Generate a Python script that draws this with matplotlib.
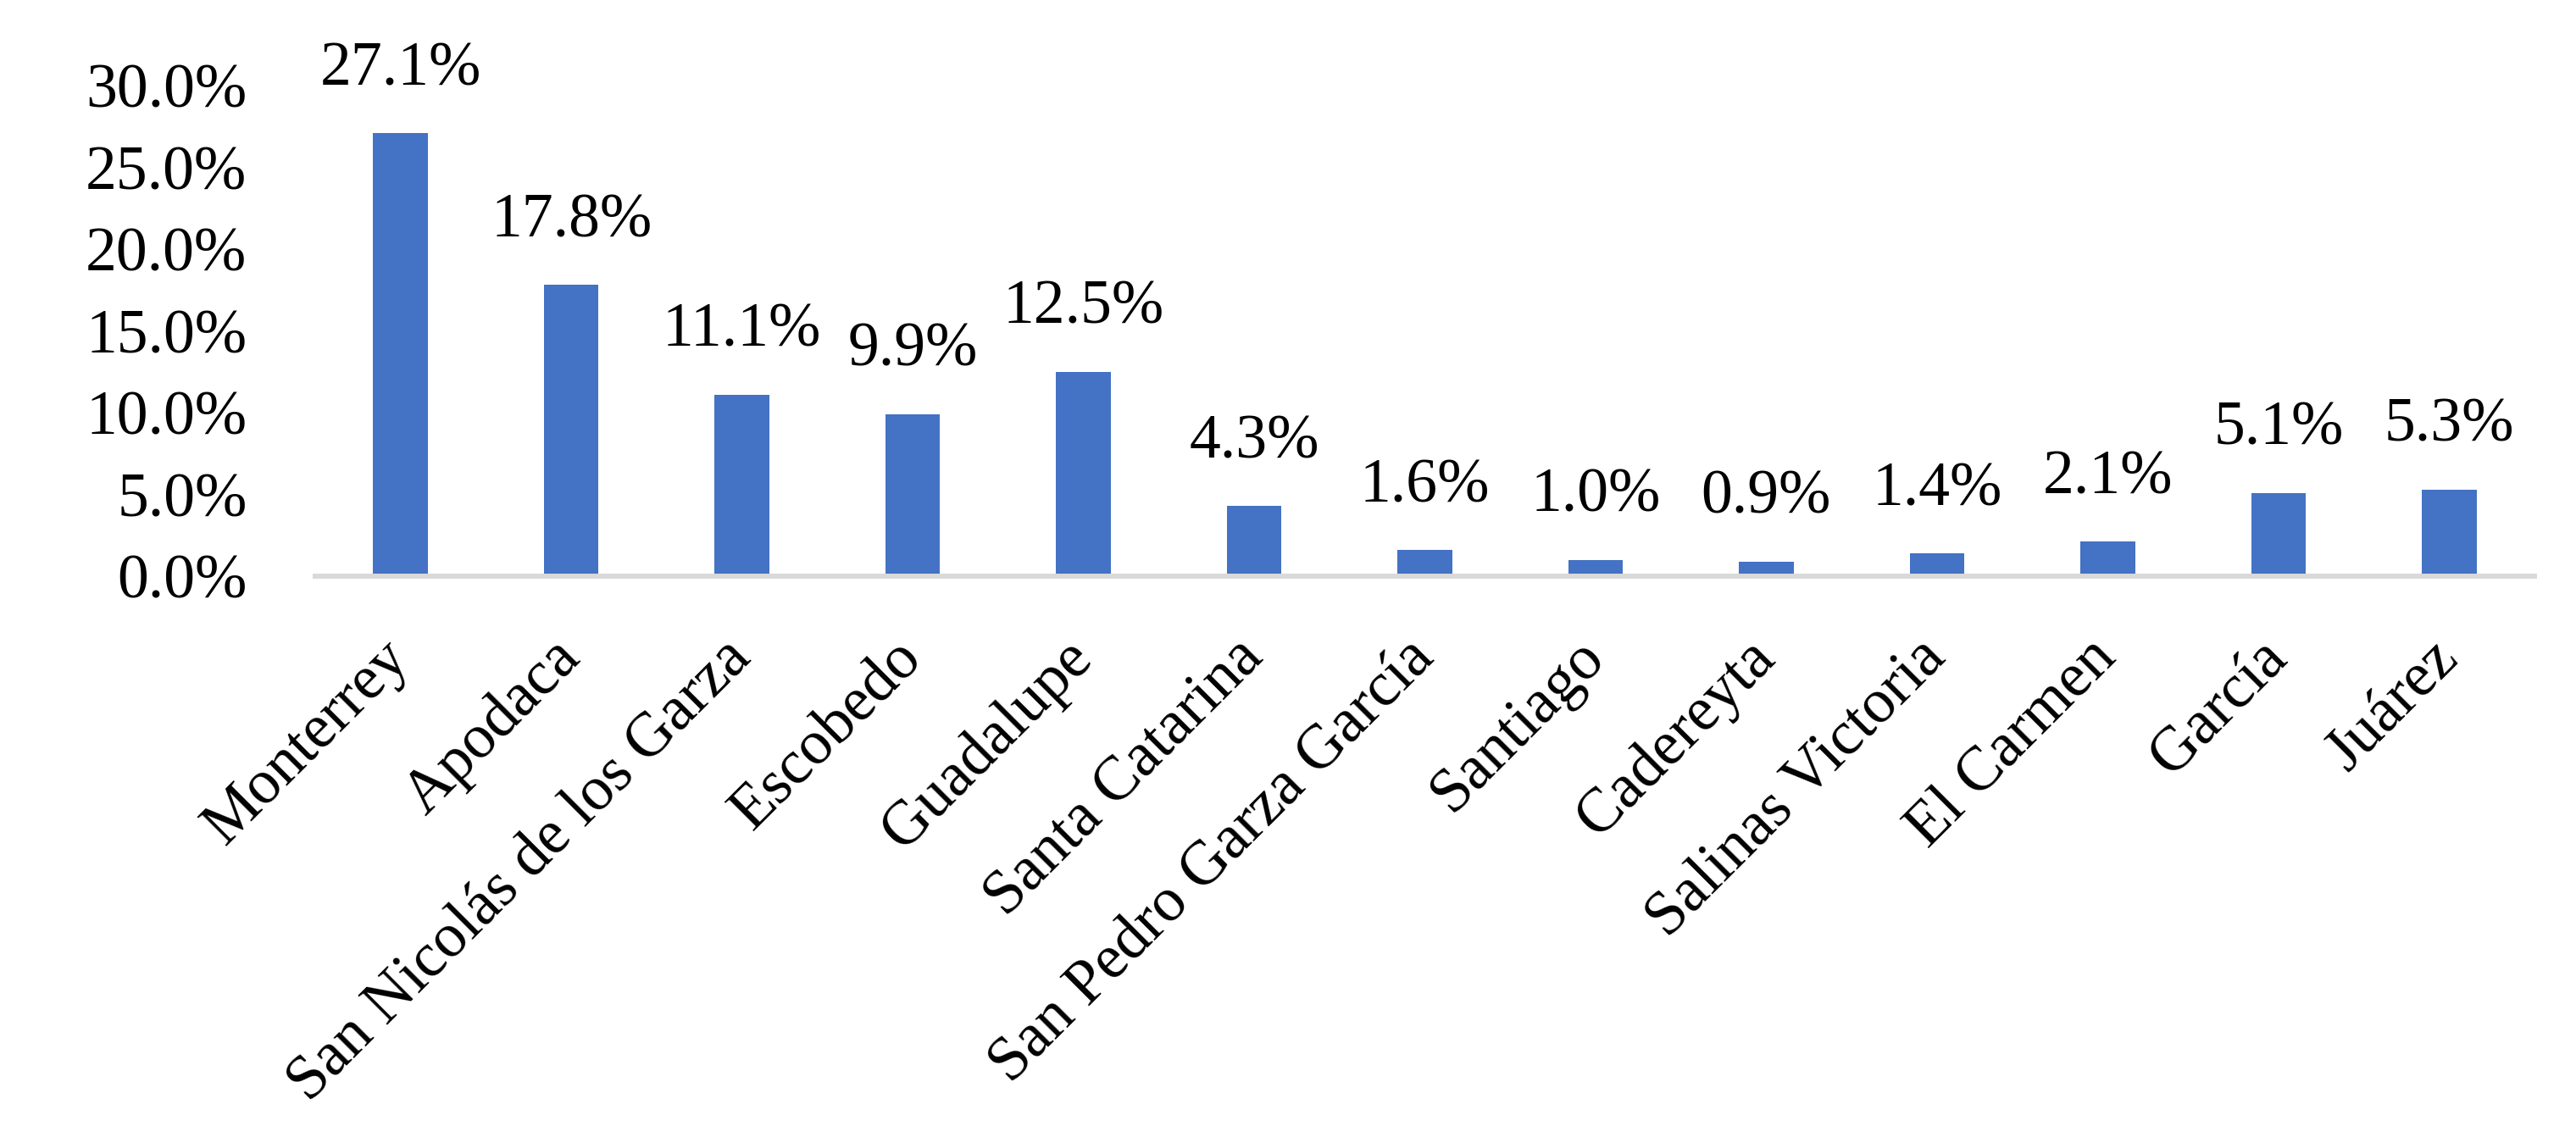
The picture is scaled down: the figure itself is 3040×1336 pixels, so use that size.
import matplotlib
matplotlib.use("Agg")
import matplotlib.pyplot as plt
from matplotlib.ticker import FuncFormatter

categories = ["Monterrey", "Apodaca", "San Nicolás de los Garza", "Escobedo",
              "Guadalupe", "Santa Catarina", "San Pedro Garza García", "Santiago",
              "Cadereyta", "Salinas Victoria", "El Carmen", "García", "Juárez"]
values = [27.1, 17.8, 11.1, 9.9, 12.5, 4.3, 1.6, 1.0, 0.9, 1.4, 2.1, 5.1, 5.3]
yticks = [0, 5, 10, 15, 20, 25, 30]

plt.rcParams['font.family'] = ['Liberation Serif', 'DejaVu Serif']
FS = 53

fig = plt.figure(figsize=(30.4, 13.36), dpi=100)
ax = fig.add_axes([372/3040, 1 - 680/1336, (2991-372)/3040, (680-101)/1336])

x = list(range(len(categories)))
bars = ax.bar(x, values, width=0.32, color='#4472C4', zorder=2)

ax.set_xlim(-0.5, len(categories) - 0.5)
ax.set_ylim(0, 30)
ax.set_yticks(yticks)
ax.yaxis.set_major_formatter(FuncFormatter(lambda v, p: f"{v:.1f}%"))

for s in ['top', 'right', 'left']:
    ax.spines[s].set_visible(False)
ax.spines['bottom'].set_color('#D9D9D9')
ax.spines['bottom'].set_linewidth(4.3)
ax.spines['bottom'].set_zorder(3)

ax.tick_params(axis='y', length=0, pad=58, labelsize=FS)
ax.set_xticks(x)
ax.set_xticklabels(categories, rotation=45, ha='right', va='center',
                   rotation_mode='anchor', fontsize=FS)
ax.tick_params(axis='x', length=0, pad=62)

for xi, v in zip(x, values):
    ax.annotate(f"{v:.1f}%", (xi, v), xytext=(0, 41), textcoords='offset points',
                ha='center', va='baseline', fontsize=FS, clip_on=False,
                annotation_clip=False)

fig.savefig("out.png", dpi=100, facecolor='white')
